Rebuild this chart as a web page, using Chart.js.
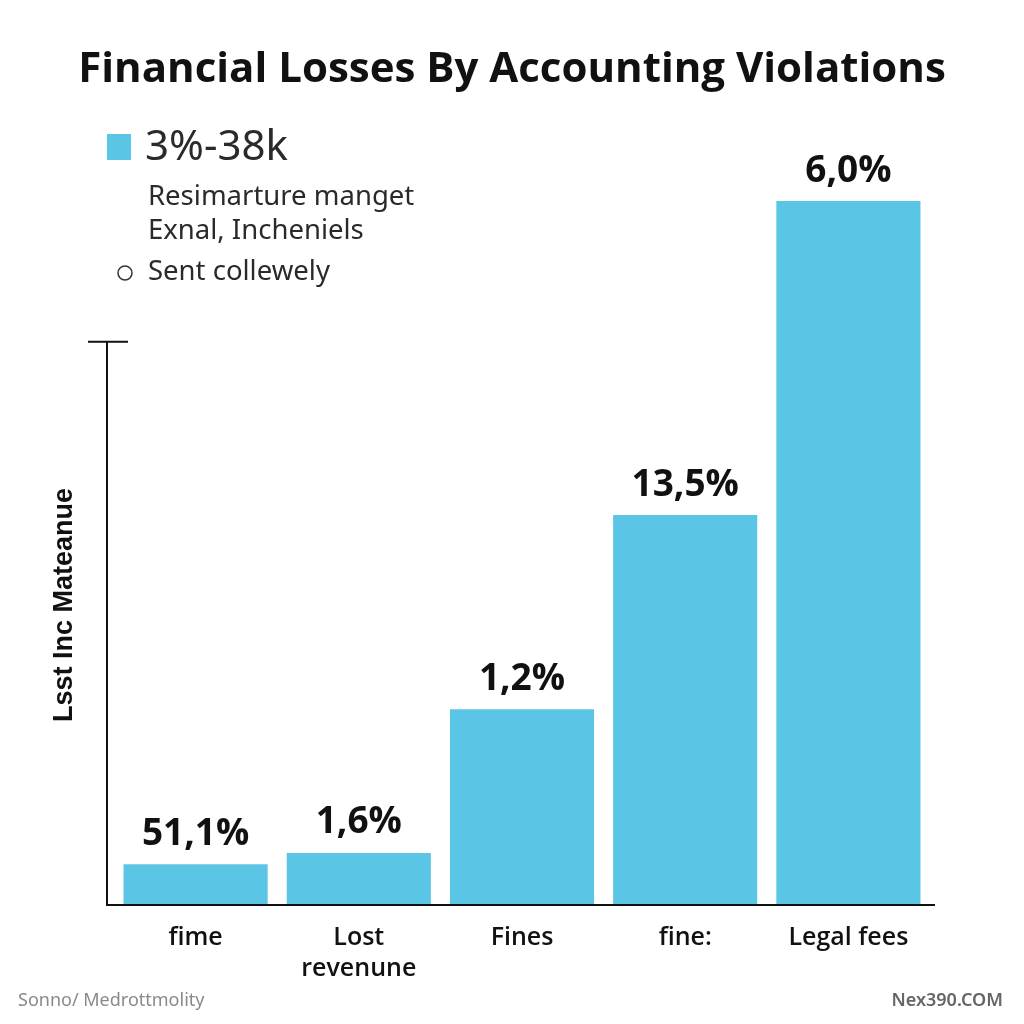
<!DOCTYPE html>
<html>
<head>
<meta charset="utf-8">
<script src="https://cdn.jsdelivr.net/npm/chart.js@4.4.0/dist/chart.umd.min.js"></script>
<style>
  html, body { margin: 0; padding: 0; background: #ffffff; }
  #wrap { width: 1024px; height: 1024px; position: relative; }
</style>
</head>
<body>
<div id="wrap"><canvas id="chartBar" width="1024" height="1024"></canvas></div>
<script>
// chart data
const chartTitle = 'Financial Losses By Accounting Violations';
const categories = ['fime', ['Lost', 'revenune'], 'Fines', 'fine:', 'Legal fees'];
const barValues = [5.8, 7.4, 27.8, 55.4, 100];
const valueLabels = ['51,1%', '1,6%', '1,2%', '13,5%', '6,0%'];
const legendLines = ['3%-38k', 'Resimarture manget', 'Exnal, Incheniels', 'Sent collewely'];
const axisTopValue = 80; // where the drawn y axis line stops
const yTitle = 'Lsst Inc Mateanue';
const footLeft = 'Sonno/ Medrottmolity';
const footRight = 'Nex390.COM';

const barColor = '#5bc5e5';

// draws the extra bits: title, axis lines, value labels, legend block, y title, footer
const decorPlugin = {
  id: 'decor',
  afterDatasetsDraw(chart) {
    const ctx = chart.ctx;
    const area = chart.chartArea;
    const y = chart.scales.y;
    const meta = chart.getDatasetMeta(0);
    ctx.save();

    // title (drawn here so it is not squeezed by the layout padding)
    ctx.fillStyle = '#111111';
    ctx.font = 'bold 42px "Open Sans"';
    ctx.textAlign = 'center';
    ctx.textBaseline = 'middle';
    ctx.fillText(chartTitle, chart.width / 2, 70);

    // value labels above bars
    ctx.font = 'bold 37px "Open Sans"';
    meta.data.forEach((bar, i) => {
      ctx.fillText(valueLabels[i], bar.x, bar.y - 30);
    });

    // axes
    const axisX = area.left - 7;
    const baseY = y.getPixelForValue(0);
    const topY = y.getPixelForValue(axisTopValue);
    ctx.strokeStyle = '#111111';
    ctx.lineWidth = 2;
    ctx.beginPath();
    ctx.moveTo(axisX, topY);
    ctx.lineTo(axisX, baseY);
    ctx.lineTo(area.right + 5, baseY);
    ctx.moveTo(axisX - 19, topY);
    ctx.lineTo(axisX + 21, topY);
    ctx.stroke();

    // y axis title
    ctx.save();
    ctx.translate(65, 605);
    ctx.rotate(-Math.PI / 2);
    ctx.font = 'bold 27px "Liberation Sans"';
    ctx.fillStyle = '#111111';
    ctx.textAlign = 'center';
    ctx.textBaseline = 'middle';
    ctx.fillText(yTitle, 0, 0);
    ctx.restore();

    // legend block
    ctx.textAlign = 'left';
    ctx.textBaseline = 'middle';
    ctx.fillStyle = barColor;
    ctx.fillRect(107, 134, 24, 26);
    ctx.fillStyle = '#2a2a2a';
    ctx.font = '42px "Noto Sans"';
    ctx.fillText(legendLines[0], 145, 148);
    ctx.font = '27.5px "Noto Sans"';
    ctx.fillText(legendLines[1], 148, 197);
    ctx.fillText(legendLines[2], 148, 231);
    ctx.fillText(legendLines[3], 148, 272);
    ctx.strokeStyle = '#333333';
    ctx.lineWidth = 1.5;
    ctx.beginPath();
    ctx.arc(125, 273, 7, 0, Math.PI * 2);
    ctx.stroke();

    // footer
    ctx.font = '18px "Noto Sans"';
    ctx.fillStyle = '#8a8a8a';
    ctx.fillText(footLeft, 18, 1001);
    ctx.textAlign = 'right';
    ctx.font = '600 18px "Noto Sans"';
    ctx.fillStyle = '#666666';
    ctx.fillText(footRight, 1003, 1001);

    ctx.restore();
  }
};

new Chart(document.getElementById('chartBar').getContext('2d'), {
  type: 'bar',
  data: {
    labels: categories,
    datasets: [{
      data: barValues,
      backgroundColor: barColor,
      borderWidth: 0,
      barPercentage: 0.883,
      categoryPercentage: 1
    }]
  },
  options: {
    responsive: false,
    animation: false,
    layout: { padding: { left: 114, right: 94, top: 201, bottom: 0 } },
    plugins: {
      legend: { display: false },
      tooltip: { enabled: false },
      title: { display: false }
    },
    scales: {
      x: {
        grid: { display: false },
        border: { display: false },
        ticks: {
          color: '#111111',
          font: { family: 'Open Sans', size: 25, weight: '600', lineHeight: 1.25 },
          padding: 9,
          maxRotation: 0,
          autoSkip: false
        },
        afterFit(scale) { scale.height = 119; }
      },
      y: {
        display: false,
        min: 0,
        max: 100
      }
    }
  },
  plugins: [decorPlugin]
});
</script>
</body>
</html>
